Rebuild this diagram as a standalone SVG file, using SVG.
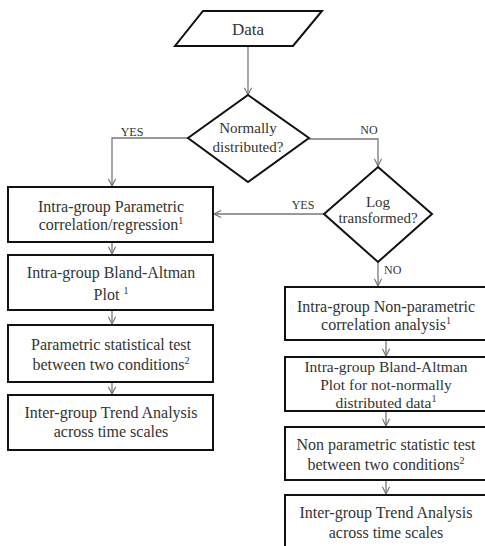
<svg xmlns="http://www.w3.org/2000/svg" width="485" height="546" viewBox="0 0 485 546">
<defs>
<style>
.node{fill:#fff;stroke:#111;stroke-width:2}
.t{font-family:'Liberation Serif',serif;font-size:16px;fill:#333;text-anchor:middle}
.d{font-size:15px}
.lbl{font-family:'Liberation Serif',serif;font-size:12px;fill:#333}
.sup{font-size:10px}
.c{fill:none;stroke:#777;stroke-width:1.3}
</style>
<marker id="arr" viewBox="0 0 10 10" refX="9" refY="5" markerWidth="9" markerHeight="9" orient="auto" markerUnits="userSpaceOnUse">
<path d="M1,1 L9,5 L1,9" fill="none" stroke="#777" stroke-width="1.3"/>
</marker>
</defs>
<rect width="485" height="546" fill="#fff"/>
<g id="connectors">
<path class="c" d="M248,46 V95" marker-end="url(#arr)"/>
<path class="c" d="M188,138 H112 V186" marker-end="url(#arr)"/>
<path class="c" d="M309,139 H378 V166" marker-end="url(#arr)"/>
<path class="c" d="M324,214 H214" marker-end="url(#arr)"/>
<path class="c" d="M378,262 V286" marker-end="url(#arr)"/>
<path class="c" d="M112,242 V254" marker-end="url(#arr)"/>
<path class="c" d="M112,310 V324" marker-end="url(#arr)"/>
<path class="c" d="M112,382 V394" marker-end="url(#arr)"/>
<path class="c" d="M386,340 V356" marker-end="url(#arr)"/>
<path class="c" d="M386,411 V426" marker-end="url(#arr)"/>
<path class="c" d="M386,480 V494" marker-end="url(#arr)"/>
<text class="lbl" font-family="Liberation Serif, serif" x="132" y="136" text-anchor="middle">YES</text>
<text class="lbl" font-family="Liberation Serif, serif" x="369" y="134" text-anchor="middle">NO</text>
<text class="lbl" font-family="Liberation Serif, serif" x="303" y="209" text-anchor="middle">YES</text>
<text class="lbl" font-family="Liberation Serif, serif" x="384" y="274">NO</text>
</g>
<g id="data">
<polygon class="node" points="203,11 322,11 293,46 175,46"/>
<text class="t" x="248" y="35" style="font-size:17px">Data</text>
</g>
<g id="normally">
<polygon class="node" points="248,95 309,138 248,182 188,138"/>
<text class="t d" x="248" y="133">Normally</text>
<text class="t d" x="248" y="152">distributed?</text>
</g>
<g id="log">
<polygon class="node" points="378,167 432,214 378,262 324,214"/>
<text class="t d" x="378" y="207">Log</text>
<text class="t d" x="378" y="223">transformed?</text>
</g>
<g id="param-corr">
<rect class="node" x="8" y="187" width="205" height="55"/>
<text class="t" x="111" y="212">Intra-group Parametric</text>
<text class="t" x="111" y="230">correlation/regression<tspan class="sup" dy="-6">1</tspan></text>
</g>
<g id="ba-left">
<rect class="node" x="8" y="255" width="205" height="55"/>
<text class="t" x="111" y="278">Intra-group Bland-Altman</text>
<text class="t" x="111" y="300">Plot <tspan class="sup" dy="-6">1</tspan></text>
</g>
<g id="param-test">
<rect class="node" x="8" y="325" width="205" height="57"/>
<text class="t" x="111" y="350">Parametric statistical test</text>
<text class="t" x="111" y="370">between two conditions<tspan class="sup" dy="-6">2</tspan></text>
</g>
<g id="trend-left">
<rect class="node" x="8" y="395" width="205" height="55"/>
<text class="t" x="111" y="418">Inter-group Trend Analysis</text>
<text class="t" x="111" y="437">across time scales</text>
</g>
<g id="nonparam-corr">
<rect class="node" x="285" y="287" width="205" height="53"/>
<text class="t" x="386" y="312">Intra-group Non-parametric</text>
<text class="t" x="386" y="330">correlation analysis<tspan class="sup" dy="-6">1</tspan></text>
</g>
<g id="ba-right">
<rect class="node" x="285" y="357" width="205" height="54"/>
<text class="t" x="386" y="372" style="font-size:15.5px">Intra-group Bland-Altman</text>
<text class="t" x="386" y="390" style="font-size:15.5px">Plot for not-normally</text>
<text class="t" x="386" y="408" style="font-size:15.5px">distributed data<tspan class="sup" dy="-6">1</tspan></text>
</g>
<g id="nonparam-test">
<rect class="node" x="285" y="427" width="205" height="53"/>
<text class="t" x="386" y="450">Non parametric statistic test</text>
<text class="t" x="386" y="470">between two conditions<tspan class="sup" dy="-6">2</tspan></text>
</g>
<g id="trend-right">
<rect class="node" x="285" y="495" width="205" height="60"/>
<text class="t" x="386" y="518">Inter-group Trend Analysis</text>
<text class="t" x="386" y="538">across time scales</text>
</g>
</svg>
